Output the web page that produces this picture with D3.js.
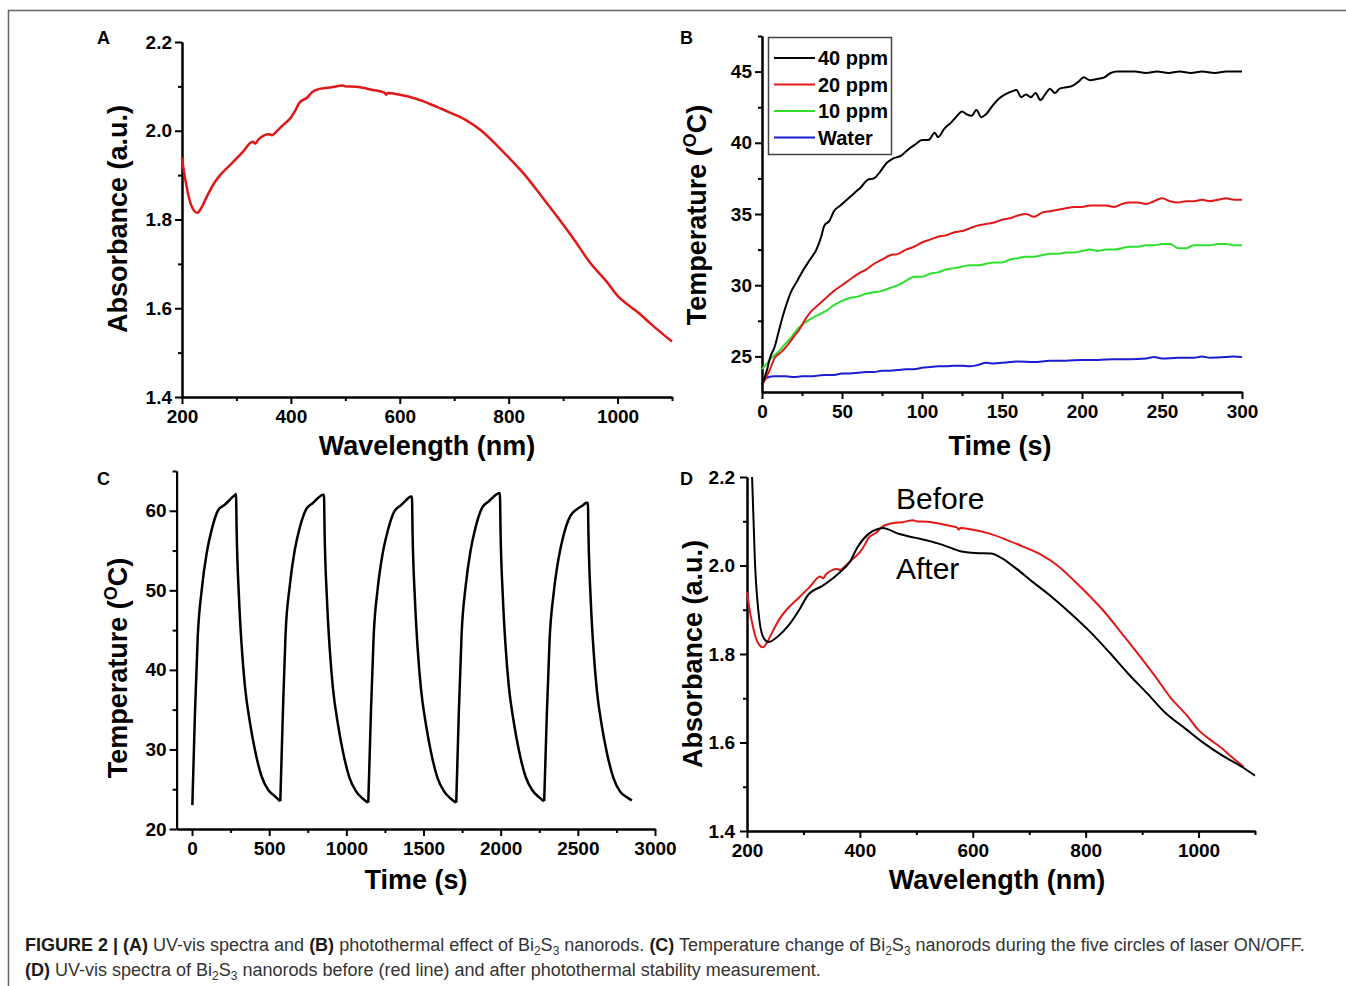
<!DOCTYPE html>
<html>
<head>
<meta charset="utf-8">
<script src="https://cdnjs.cloudflare.com/ajax/libs/d3/7.8.5/d3.min.js"></script>
<style>
  body { margin: 0; background: #fff; }
  svg { display: block; font-family: "Liberation Sans", Arial, sans-serif; }
  .axis .domain, .axis line { stroke: #000; stroke-width: 2; }
  .axis text { font-size: 19px; font-weight: bold; fill: #000; font-family: "Liberation Sans", Arial, sans-serif; }
  .title { font-size: 27px; font-weight: bold; fill: #000; }
  .letter { font-size: 18px; font-weight: bold; fill: #000; }
</style>
</head>
<body>
<svg id="fig" width="1346" height="986"></svg>
<script>
// ---- data ----

// UV-vis spectrum before (panel A and red line in D)
const beforeSpectrum = [
  [200,1.94],[204,1.905],[210,1.865],[216,1.835],[222,1.82],[228,1.815],[235,1.825],[245,1.85],
  [258,1.88],[270,1.90],[290,1.925],[310,1.95],[330,1.975],[335,1.971],[340,1.98],[360,1.992],
  [365,1.99],[375,2.0],[385,2.012],[400,2.03],[410,2.05],[415,2.062],[430,2.075],[440,2.088],
  [455,2.095],[475,2.098],[495,2.102],[500,2.1],[520,2.099],[550,2.092],[572,2.086],[575,2.081],
  [578,2.085],[600,2.081],[630,2.072],[660,2.058],[690,2.042],[720,2.025],[750,2.0],[780,1.965],
  [800,1.94],[830,1.9],[860,1.853],[890,1.805],[920,1.755],[950,1.702],[980,1.66],[1000,1.628],
  [1020,1.607],[1040,1.588],[1060,1.566],[1080,1.545],[1100,1.525]
];

// UV-vis spectrum after the photothermal cycles (black line in D)
const afterSpectrum = [
  [209,2.2],[214,2.01],[222,1.876],[230,1.835],[238,1.827],[254,1.839],[274,1.865],[294,1.903],
  [308,1.933],[335,1.955],[355,1.974],[365,1.985],[382,2.008],[396,2.042],[416,2.072],[433,2.083],
  [440,2.085],[470,2.071],[497,2.063],[538,2.05],[565,2.038],[578,2.032],[605,2.028],[632,2.027],
  [652,2.016],[673,1.997],[706,1.963],[740,1.929],[774,1.891],[808,1.85],[841,1.805],[875,1.756],
  [909,1.711],[942,1.666],[976,1.632],[1010,1.598],[1044,1.569],[1078,1.544],[1100,1.525]
];

// photothermal heating curves (panel B)
const ppm40 = [
  [0,23.0],[3,24.0],[5,24.9],[8,25.7],[11,27.0],[14,28.2],[18,29.5],[22,30.3],[26,31.1],[30,31.8],
  [34,32.5],[37,33.4],[39,34.2],[42,34.5],[45,35.2],[49,35.6],[53,36.0],[58,36.5],[62,36.9],[66,37.4],
  [70,37.5],[74,38.0],[78,38.6],[82,38.9],[87,39.1],[91,39.5],[96,39.9],[100,40.2],[104,40.2],[108,40.7],
  [110,40.4],[114,41.0],[118,41.4],[122,41.9],[125,42.2],[128,42.0],[131,41.9],[134,42.3],[137,41.8],
  [140,42.0],[144,42.6],[148,43.1],[152,43.4],[156,43.6],[159,43.7],[162,43.2],[165,43.4],[168,43.2],
  [171,43.5],[174,43.0],[177,43.4],[180,43.8],[183,43.5],[186,43.8],[190,43.9],[194,44.0],[198,44.3],
  [201,44.6],[205,44.4],[210,44.5],[214,44.6],[218,44.9],[222,45.0],[228,45.0],[233,45.0],[240,44.9],
  [247,45.0],[254,44.9],[261,45.0],[268,44.9],[275,45.0],[283,44.9],[290,45.0],[300,45.0]
];
const ppm20 = [
  [0,23.0],[3,23.6],[5,24.1],[8,24.9],[12,25.3],[16,25.8],[20,26.4],[24,27.0],[27,27.6],[31,28.2],
  [35,28.6],[40,29.1],[45,29.6],[50,30.0],[55,30.4],[60,30.8],[65,31.1],[70,31.5],[75,31.8],[80,32.1],
  [85,32.2],[90,32.5],[95,32.7],[100,33.0],[105,33.2],[110,33.4],[115,33.5],[120,33.7],[125,33.8],
  [130,34.0],[135,34.2],[140,34.3],[145,34.4],[150,34.6],[155,34.7],[160,34.9],[165,35.0],[170,34.8],
  [175,35.1],[180,35.2],[185,35.3],[190,35.4],[195,35.5],[200,35.5],[205,35.6],[210,35.6],[215,35.6],
  [220,35.5],[225,35.7],[230,35.8],[235,35.8],[240,35.7],[245,35.9],[250,36.1],[255,35.9],[260,35.8],
  [265,35.9],[270,35.9],[275,36.0],[280,35.9],[285,36.0],[290,36.1],[295,36.0],[300,36.0]
];
const ppm10 = [
  [0,24.1],[3,24.5],[6,24.9],[10,25.3],[14,25.8],[18,26.3],[22,26.9],[26,27.3],[30,27.6],[35,27.9],
  [40,28.2],[45,28.6],[50,28.9],[55,29.1],[60,29.2],[65,29.4],[70,29.5],[75,29.6],[80,29.8],[85,30.0],
  [90,30.3],[95,30.6],[100,30.6],[105,30.8],[110,30.9],[115,31.1],[120,31.2],[125,31.3],[130,31.4],
  [135,31.4],[140,31.5],[145,31.6],[150,31.6],[155,31.8],[160,31.9],[165,32.0],[170,32.0],[175,32.1],
  [180,32.2],[185,32.2],[190,32.3],[195,32.3],[200,32.4],[205,32.5],[210,32.4],[215,32.5],[220,32.5],
  [225,32.6],[230,32.7],[235,32.7],[240,32.8],[245,32.8],[250,32.9],[255,32.9],[260,32.6],[265,32.6],
  [270,32.8],[275,32.8],[280,32.8],[285,32.9],[290,32.9],[295,32.8],[300,32.8]
];
const water = [
  [0,23.0],[3,23.5],[8,23.6],[15,23.6],[20,23.55],[25,23.6],[30,23.6],[35,23.65],[40,23.7],[45,23.7],
  [50,23.8],[55,23.8],[60,23.85],[65,23.9],[70,23.9],[75,24.0],[80,24.0],[85,24.05],[90,24.1],[95,24.1],
  [100,24.2],[105,24.25],[110,24.3],[115,24.3],[120,24.35],[125,24.35],[130,24.3],[135,24.4],[140,24.55],
  [145,24.5],[150,24.55],[155,24.6],[160,24.65],[170,24.6],[180,24.7],[190,24.7],[200,24.75],[210,24.75],
  [220,24.8],[230,24.8],[240,24.85],[245,24.95],[250,24.85],[260,24.9],[270,24.9],[275,25.0],[280,24.9],
  [290,24.95],[295,25.0],[300,24.95]
];
const legendLabels = ["40 ppm", "20 ppm", "10 ppm", "Water"];

// laser ON/OFF cycles (panel C)
const cycle1 = [[2,23.0],[19,34.6],[37,44.2],[63,50.1],[95,54.7],[127,57.6],[170,60.1],[214,60.8],[246,61.4],[278,62.0],[285,62.1],[289,57.6],[304,49.2],[322,42.9],[343,37.9],[376,33.3],[408,29.9],[451,26.6],[494,24.9],[538,24.1],[570,23.5]];
const cycle2 = [[572,23.5],[589,34.8],[606,44.5],[633,50.5],[665,55.0],[697,57.8],[740,60.2],[784,61.0],[816,61.6],[848,62.0],[855,62.0],[859,57.4],[874,49.0],[892,42.7],[913,37.7],[946,33.1],[978,29.7],[1021,26.4],[1064,24.7],[1108,23.8],[1140,23.3]];
const cycle3 = [[1142,23.3],[1159,34.5],[1177,44.3],[1203,50.2],[1235,54.6],[1267,57.4],[1310,59.9],[1354,60.7],[1386,61.3],[1418,61.8],[1425,61.8],[1429,57.3],[1444,49.0],[1462,42.7],[1483,37.7],[1516,33.1],[1548,29.7],[1591,26.4],[1634,24.7],[1678,23.8],[1710,23.3]];
const cycle4 = [[1712,23.3],[1729,34.8],[1747,44.6],[1773,50.5],[1805,55.0],[1837,57.9],[1880,60.4],[1924,61.2],[1956,61.8],[1988,62.2],[1995,62.2],[1999,57.6],[2014,49.2],[2032,42.9],[2053,37.9],[2086,33.3],[2118,29.9],[2161,26.6],[2204,24.9],[2248,24.0],[2280,23.5]];
const cycle5 = [[2282,23.5],[2299,34.4],[2317,43.8],[2343,49.6],[2375,54.0],[2407,56.9],[2450,59.3],[2494,60.2],[2526,60.6],[2558,61.0],[2565,61.0],[2569,56.8],[2584,48.6],[2602,42.4],[2623,37.5],[2656,32.9],[2688,29.6],[2731,26.4],[2774,24.7],[2818,24.0],[2850,23.6]];

// tick values
const wlTicks = [200, 400, 600, 800, 1000];
const wlMinor = [300, 500, 700, 900, 1100];
const absTicks = [1.4, 1.6, 1.8, 2.0, 2.2];
const absMinor = [1.5, 1.7, 1.9, 2.1];
const tB = [0, 50, 100, 150, 200, 250, 300];
const tBMinor = [25, 75, 125, 175, 225, 275];
const tempB = [25, 30, 35, 40, 45];
const tempBMinor = [27.5, 32.5, 37.5, 42.5, 47.5];
const tC = [0, 500, 1000, 1500, 2000, 2500, 3000];
const tCMinor = [250, 750, 1250, 1750, 2250, 2750];
const tempC = [20, 30, 40, 50, 60];
const tempCMinor = [25, 35, 45, 55, 65];

const RED = "#e01818", BLACK = "#000", GREEN = "#2ee02e", BLUE = "#1c1cd0";

const svg = d3.select("#fig");

// frame round the figure
svg.append("path").attr("d", "M8.5,986 V10.5 H1346")
  .attr("fill", "none").attr("stroke", "#666").attr("stroke-width", 1.5);

function panel(o) {
  const g = svg.append("g");
  const x = d3.scaleLinear().domain(o.xd).range(o.xr);
  const y = d3.scaleLinear().domain(o.yd).range(o.yr);
  const y0 = o.yr[0], x0 = o.xr[0];

  g.append("g").attr("class", "axis").attr("transform", `translate(0,${y0})`)
    .call(d3.axisBottom(x).tickValues(o.xMinor).tickSize(4).tickSizeOuter(0).tickFormat(""));
  g.append("g").attr("class", "axis").attr("transform", `translate(0,${y0})`)
    .call(d3.axisBottom(x).tickValues(o.xTicks).tickSize(7).tickSizeOuter(0).tickPadding(6).tickFormat(d3.format("d")));
  g.append("g").attr("class", "axis").attr("transform", `translate(${x0},0)`)
    .call(d3.axisLeft(y).tickValues(o.yMinor).tickSize(4).tickSizeOuter(0).tickFormat(""));
  g.append("g").attr("class", "axis").attr("transform", `translate(${x0},0)`)
    .call(d3.axisLeft(y).tickValues(o.yTicks).tickSize(7).tickSizeOuter(0).tickPadding(o.yPad || 3).tickFormat(o.yFmt));

  const line = d3.line().x(d => x(d[0])).y(d => y(d[1])).curve(d3.curveMonotoneX);
  o.series.forEach(s => {
    g.append("path").datum(s.data).attr("d", line)
      .attr("fill", "none").attr("stroke", s.color).attr("stroke-width", s.w || 2)
      .attr("stroke-linejoin", "round");
  });

  // axis titles
  g.append("text").attr("class", "title").attr("text-anchor", "middle")
    .attr("x", o.xTitle[0]).attr("y", o.xTitle[1]).text(o.xTitle[2]);
  const yt = g.append("text").attr("class", "title").attr("text-anchor", "middle")
    .attr("transform", `translate(${o.yTitle[0]},${o.yTitle[1]}) rotate(-90)`);
  if (o.yTitle[2] === "temp") {
    yt.append("tspan").text("Temperature (");
    yt.append("tspan").attr("font-size", 18).attr("dy", -10).text("O");
    yt.append("tspan").attr("dy", 10).text("C)");
  } else {
    yt.text(o.yTitle[2]);
  }
  svg.append("text").attr("class", "letter").attr("x", o.letter[0]).attr("y", o.letter[1]).text(o.letter[2]);
  return { g, x, y };
}

// A
panel({
  xd: [200, 1100], xr: [182, 672], yd: [1.4, 2.2], yr: [397, 42],
  xTicks: wlTicks, xMinor: wlMinor, yTicks: absTicks, yMinor: absMinor, yFmt: d3.format(".1f"),
  series: [{ data: beforeSpectrum, color: RED, w: 2.5 }],
  xTitle: [427, 455, "Wavelength (nm)"], yTitle: [127, 219, "Absorbance (a.u.)"], letter: [97, 44, "A"]
});

// B
const pB = panel({
  xd: [0, 300], xr: [762, 1242], yd: [22.5, 47.5], yr: [392, 36],
  xTicks: tB, xMinor: tBMinor, yTicks: tempB, yMinor: tempBMinor, yFmt: d3.format("d"),
  series: [
    { data: water, color: BLUE }, { data: ppm10, color: GREEN },
    { data: ppm20, color: RED }, { data: ppm40, color: BLACK }
  ],
  xTitle: [1000, 455, "Time (s)"], yTitle: [706, 215, "temp"], letter: [680, 44, "B"]
});

// legend in B
const leg = pB.g.append("g");
leg.append("rect").attr("x", 768.5).attr("y", 37.5).attr("width", 123).attr("height", 117)
  .attr("fill", "#fff").attr("stroke", "#444").attr("stroke-width", 1.5);
[BLACK, RED, GREEN, BLUE].forEach((c, i) => {
  const yy = 58 + i * 26.5;
  leg.append("line").attr("x1", 774).attr("x2", 815).attr("y1", yy).attr("y2", yy)
    .attr("stroke", c).attr("stroke-width", 2);
  leg.append("text").attr("x", 818).attr("y", yy + 7).attr("font-size", 20).attr("font-weight", "bold")
    .text(legendLabels[i]);
});

// C
panel({
  xd: [-100, 3000], xr: [176.6, 655], yd: [20, 65], yr: [829, 471],
  xTicks: tC, xMinor: tCMinor, yTicks: tempC, yMinor: tempCMinor, yFmt: d3.format("d"),
  series: [cycle1, cycle2, cycle3, cycle4, cycle5].map(c => ({ data: c, color: BLACK, w: 2.5 })),
  xTitle: [416, 889, "Time (s)"], yTitle: [127, 668, "temp"], letter: [97, 485, "C"]
});

// D
const pD = panel({
  xd: [200, 1100], xr: [747, 1255], yd: [1.4, 2.2], yr: [831, 477],
  xTicks: wlTicks, xMinor: wlMinor, yTicks: absTicks, yMinor: absMinor, yFmt: d3.format(".1f"), yPad: 5,
  series: [
    { data: beforeSpectrum.filter(d => d[0] <= 1080), color: RED },
    { data: afterSpectrum, color: BLACK }
  ],
  xTitle: [997, 889, "Wavelength (nm)"], yTitle: [702, 654, "Absorbance (a.u.)"], letter: [680, 485, "D"]
});
pD.g.append("text").attr("x", 896).attr("y", 509).attr("font-size", 30).text("Before");
pD.g.append("text").attr("x", 896).attr("y", 579).attr("font-size", 30).text("After");

// caption
const cap1 = [
  ["FIGURE 2 | (A)", "b"], [" UV-vis spectra and ", ""], ["(B)", "b"], [" photothermal effect of Bi", ""],
  ["2", "sub"], ["S", ""], ["3", "sub"], [" nanorods. ", ""], ["(C)", "b"], [" Temperature change of Bi", ""],
  ["2", "sub"], ["S", ""], ["3", "sub"], [" nanorods during the five circles of laser ON/OFF.", ""]
];
const cap2 = [
  ["(D)", "b"], [" UV-vis spectra of Bi", ""], ["2", "sub"], ["S", ""], ["3", "sub"],
  [" nanorods before (red line) and after photothermal stability measurement.", ""]
];
function caption(parts, yy) {
  const t = svg.append("text").attr("x", 25).attr("y", yy).attr("font-size", 18).attr("fill", "#333");
  let shifted = false;
  parts.forEach(p => {
    const ts = t.append("tspan").text(p[0]);
    if (p[1] === "b") ts.attr("font-weight", "bold").attr("fill", "#1a1a1a");
    if (p[1] === "sub") { ts.attr("font-size", 12).attr("dy", 4); shifted = true; }
    else if (shifted) { ts.attr("dy", -4); shifted = false; }
  });
}
caption(cap1, 951);
caption(cap2, 976);
</script>
</body>
</html>
